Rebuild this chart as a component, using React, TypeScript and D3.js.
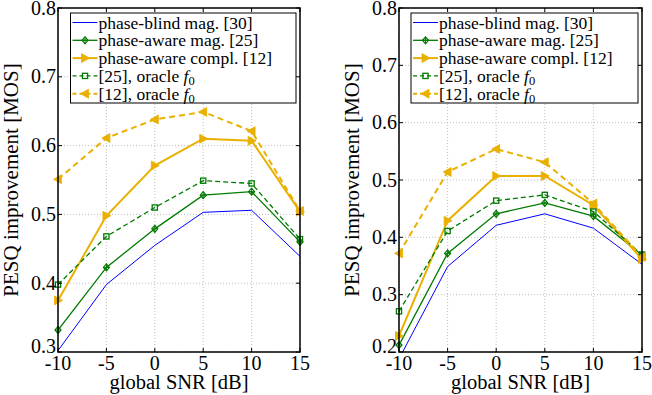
import * as d3 from "d3";

const snr = [ -10, -5, 0, 5, 10, 15 ];
const xTicks = [ -10, -5, 0, 5, 10, 15 ];

// left panel
const blindL = [ 0.302, 0.398, 0.455, 0.503, 0.506, 0.439 ];
const awareMagL = [ 0.332, 0.423, 0.479, 0.528, 0.533, 0.460 ];
const awareComplL = [ 0.375, 0.498, 0.571, 0.610, 0.607, 0.504 ];
const oracleMagL = [ 0.398, 0.468, 0.510, 0.549, 0.545, 0.464 ];
const oracleComplL = [ 0.551, 0.611, 0.638, 0.649, 0.621, 0.505 ];
const yTicksL = [ 0.3, 0.4, 0.5, 0.6, 0.7, 0.8 ];

// right panel
const blindR = [ 0.188, 0.349, 0.421, 0.441, 0.416, 0.353 ];
const awareMagR = [ 0.212, 0.372, 0.441, 0.460, 0.437, 0.369 ];
const awareComplR = [ 0.228, 0.429, 0.507, 0.507, 0.456, 0.362 ];
const oracleMagR = [ 0.271, 0.411, 0.464, 0.474, 0.445, 0.370 ];
const oracleComplR = [ 0.372, 0.514, 0.554, 0.531, 0.459, 0.366 ];
const yTicksR = [ 0.2, 0.3, 0.4, 0.5, 0.6, 0.7, 0.8 ];

const seriesNames = [ "phase-blind mag. [30]", "phase-aware mag. [25]", "phase-aware compl. [12]", "[25], oracle ", "[12], oracle " ];

const BLUE = "#0000ff";
const GREEN = "#007a00";
const YELLOW = "#eab000";
const FONT = { fontFamily: "\"Times New Roman\", \"Liberation Serif\", Tinos, FreeSerif, \"Nimbus Roman\", serif" };

interface Style { color: string; width: number; dash?: string; marker: string }
const styles: Style[] = [
    { color: BLUE, width: 1, marker: "none" },
    { color: GREEN, width: 1.3, marker: "diamond" },
    { color: YELLOW, width: 2, marker: "triRight" },
    { color: GREEN, width: 1.3, dash: "5,3", marker: "square" },
    { color: YELLOW, width: 2, dash: "6,4", marker: "triLeft" },
];

function Marker ( { kind, x, y, color }: { kind: string; x: number; y: number; color: string } )
{
    if ( kind === "diamond" )
        return (
            <g stroke={ color }>
                <path d={ `M${ x },${ y - 3.5 }L${ x + 3 },${ y }L${ x },${ y + 3.5 }L${ x - 3 },${ y }Z` } fill="none" strokeWidth={ 1.2 } />
                <path d={ `M${ x - 3 },${ y }H${ x + 3 }M${ x },${ y - 3.5 }V${ y + 3.5 }` } strokeWidth={ 1 } />
            </g>
        );
    if ( kind === "square" )
        return <rect x={ x - 2.6 } y={ y - 2.6 } width={ 5.2 } height={ 5.2 } fill="none" stroke={ color } strokeWidth={ 1.3 } />;
    if ( kind === "triRight" )
        return <path d={ `M${ x + 4.5 },${ y }L${ x - 3.5 },${ y - 4.5 }L${ x - 3.5 },${ y + 4.5 }Z` } fill={ color } stroke={ color } strokeWidth={ 0.8 } />;
    if ( kind === "triLeft" )
        return <path d={ `M${ x - 4.5 },${ y }L${ x + 3.5 },${ y - 4.5 }L${ x + 3.5 },${ y + 4.5 }Z` } fill={ color } stroke={ color } strokeWidth={ 0.8 } />;
    return null;
}

interface PanelProps
{
    id: string;
    left: number; right: number; top: number; bottom: number;
    yDomain: [ number, number ];
    yTicks: number[];
    data: number[][];
    legendX: number;
    labelX: number;
}

function Panel ( { id, left, right, top, bottom, yDomain, yTicks, data, legendX, labelX }: PanelProps )
{
    const x = d3.scaleLinear().domain( [ -10, 15 ] ).range( [ left, right ] );
    const y = d3.scaleLinear().domain( yDomain ).range( [ bottom, top ] );
    const line = d3.line<number>().x( ( _, i ) => x( snr[ i ] ) ).y( d => y( d ) );
    const ly = top + 5, lw = right - 4 - legendX, lh = 90;

    return (
        <g>
            <defs>
                <clipPath id={ id }>
                    <rect x={ left } y={ top } width={ right - left } height={ bottom - top } />
                </clipPath>
            </defs>

            {/* grid */ }
            { xTicks.map( t => (
                <line key={ "gx" + t } x1={ x( t ) } x2={ x( t ) } y1={ top } y2={ bottom }
                    stroke="#b0b0b0" strokeWidth={ 0.8 } strokeDasharray="1,2" />
            ) ) }
            { yTicks.map( t => (
                <line key={ "gy" + t } x1={ left } x2={ right } y1={ y( t ) } y2={ y( t ) }
                    stroke="#b0b0b0" strokeWidth={ 0.8 } strokeDasharray="1,2" />
            ) ) }

            {/* lines */ }
            <g clipPath={ `url(#${ id })` }>
                { data.map( ( vals, si ) => (
                    <path key={ si } d={ line( vals ) ?? "" } fill="none" stroke={ styles[ si ].color }
                        strokeWidth={ styles[ si ].width } strokeDasharray={ styles[ si ].dash } />
                ) ) }
            </g>
            { data.map( ( vals, si ) => vals.map( ( v, i ) => v >= yDomain[ 0 ] ? (
                <Marker key={ si + "-" + i } kind={ styles[ si ].marker } x={ x( snr[ i ] ) } y={ y( v ) } color={ styles[ si ].color } />
            ) : null ) ) }

            {/* frame, ticks */ }
            <rect x={ left } y={ top } width={ right - left } height={ bottom - top } fill="none" stroke="#000" strokeWidth={ 1.5 } />
            { xTicks.map( t => (
                <g key={ "tx" + t }>
                    <path d={ `M${ x( t ) },${ bottom }v-4M${ x( t ) },${ top }v4` } stroke="#000" />
                    <text x={ x( t ) } y={ bottom + 18 } textAnchor="middle" fontSize={ 20 } style={ FONT }>{ t }</text>
                </g>
            ) ) }
            { yTicks.map( ( t, i ) => (
                <g key={ "ty" + t }>
                    <path d={ `M${ left },${ y( t ) }h4M${ right },${ y( t ) }h-4` } stroke="#000" />
                    <text x={ left - 2 } y={ y( t ) + ( i === 0 ? 1 : 6.5 ) } textAnchor="end" fontSize={ 20 } style={ FONT }>{ t.toFixed( 1 ) }</text>
                </g>
            ) ) }

            {/* axis labels */ }
            <text x={ ( left + right ) / 2 } y={ bottom + 37 } textAnchor="middle" fontSize={ 20.5 } style={ FONT }>global SNR [dB]</text>
            <text transform={ `translate(${ labelX },${ ( top + bottom ) / 2 }) rotate(-90)` } textAnchor="middle"
                fontSize={ 21 } style={ FONT }>PESQ improvement [MOS]</text>

            {/* legend */ }
            <rect x={ legendX } y={ ly } width={ lw } height={ lh } fill="#fff" stroke="#000" strokeWidth={ 1 } />
            { seriesNames.map( ( name, i ) =>
            {
                const s = styles[ i ];
                const cy = ly + 9.5 + i * 17.8;
                return (
                    <g key={ name }>
                        <line x1={ legendX + 2 } x2={ legendX + 27 } y1={ cy } y2={ cy } stroke={ s.color }
                            strokeWidth={ s.width } strokeDasharray={ s.dash ? "4,3" : undefined } />
                        <Marker kind={ s.marker } x={ legendX + 14.5 } y={ cy } color={ s.color } />
                        <text x={ legendX + 28 } y={ cy + 6 } fontSize={ 17.5 } style={ FONT }>
                            { name }
                            { i >= 3 && <tspan fontStyle="italic">f</tspan> }
                            { i >= 3 && <tspan dy={ 3.5 } fontSize={ 12.5 }>0</tspan> }
                        </text>
                    </g>
                );
            } ) }
        </g>
    );
}

export default function App ()
{
    return (
        <svg width={ 652 } height={ 395 } style={ { position: "absolute", left: 0, top: 0, background: "#fff" } }>
            <Panel id="clipL" left={ 58 } right={ 300 } top={ 8 } bottom={ 352 } yDomain={ [ 0.3, 0.8 ] } yTicks={ yTicksL }
                data={ [ blindL, awareMagL, awareComplL, oracleMagL, oracleComplL ] } legendX={ 70.5 } labelX={ 18 } />
            <Panel id="clipR" left={ 399 } right={ 642 } top={ 8 } bottom={ 352 } yDomain={ [ 0.2, 0.8 ] } yTicks={ yTicksR }
                data={ [ blindR, awareMagR, awareComplR, oracleMagR, oracleComplR ] } legendX={ 411 } labelX={ 359 } />
        </svg>
    );
}
